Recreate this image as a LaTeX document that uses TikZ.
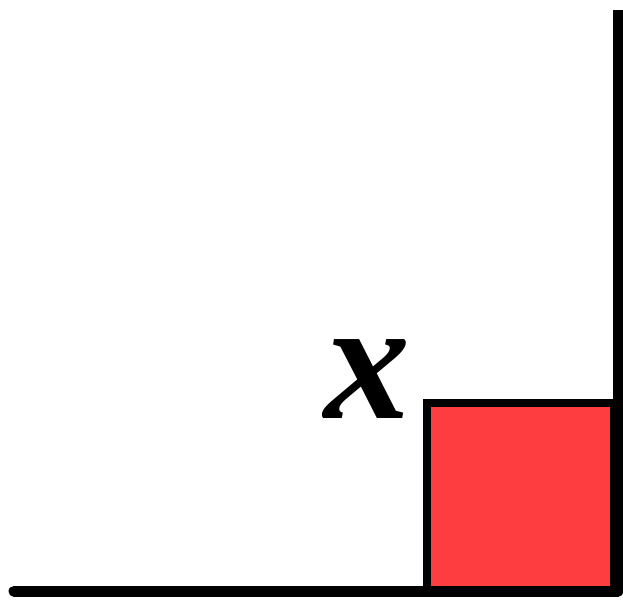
\documentclass[tikz,border=0pt]{standalone}
\usepackage{amsmath}
\usepackage{xcolor}
\usepackage{fontspec}
\newfontfamily\labelfont{Liberation Serif}
\usepackage{tikz}
\definecolor{boxred}{RGB}{253,61,64}

\begin{document}
\begin{tikzpicture}[
  x=1pt, y=1pt,
  floor/.style={line width=11pt, line cap=round},
  wall/.style={line width=11pt},
  box/.style={draw, line width=8pt, fill=boxred},
  sidelabel/.style={font=\labelfont\bfseries\itshape\fontsize{172}{172}\selectfont, inner sep=0pt},
]
  \useasboundingbox (0,0) rectangle (623,603);
  \coordinate (corner) at (618,12);
  \coordinate (left) at (14,12);
  \coordinate (top) at (618,593);

  \draw[box] (427,12) rectangle (614,200);
  \draw[wall] (top) -- (corner);
  \draw[floor] (left) -- (corner);

  \node[sidelabel, anchor=base] (xlabel) at (367,185) {x};
\end{tikzpicture}
\end{document}
